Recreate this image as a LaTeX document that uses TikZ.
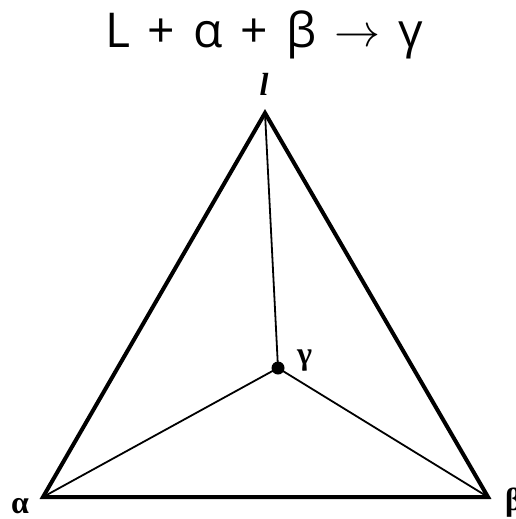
\documentclass[tikz,border=0pt]{standalone}
\usepackage{fontspec}
\usepackage{graphicx}
\setmainfont{Liberation Serif}
\newfontfamily\titlefont{Open Sans}
\usetikzlibrary{positioning}

\newcommand{\gap}{\hspace{18pt}}

\begin{document}
\begin{tikzpicture}[x=1pt, y=-1pt,
    side/.style={line width=4pt, line join=miter},
    tie/.style={line width=1.8pt},
    corner/.style={inner sep=0pt, font=\fontsize{32}{34}\selectfont\bfseries}]
  \useasboundingbox (0,0) rectangle (516,519);

  % Titre
  \node[anchor=base, inner sep=0pt, font=\fontsize{48}{50}\titlefont] (titre) at (264,48)
    {L\gap+\gap α\gap+\gap β\gap\raisebox{1pt}{\resizebox{46pt}{!}{$\rightarrow$}}\gap γ};

  % Sommets et point invariant
  \coordinate (l) at (265,113);
  \coordinate (a) at (43,497);
  \coordinate (b) at (488,497);
  \coordinate (g) at (278,368);

  % Triangle
  \draw[side] (l) -- (a) -- (b) -- cycle;

  % Liaisons vers le point gamma
  \draw[tie] (l) -- (g);
  \draw[tie] (a) -- (g);
  \draw[tie] (b) -- (g);
  \fill (g) circle (6.5pt);

  % Etiquettes
  \node[corner, anchor=base, font=\fontsize{32}{34}\selectfont\bfseries\itshape] (nl) at (264,95) {l};
  \node[corner, anchor=base west] (ng) at (297,364) {γ};
  \node[corner, anchor=base west] (na) at (11,513) {α};
  \node[corner, anchor=base west] (nb) at (505,510) {β};
\end{tikzpicture}
\end{document}
